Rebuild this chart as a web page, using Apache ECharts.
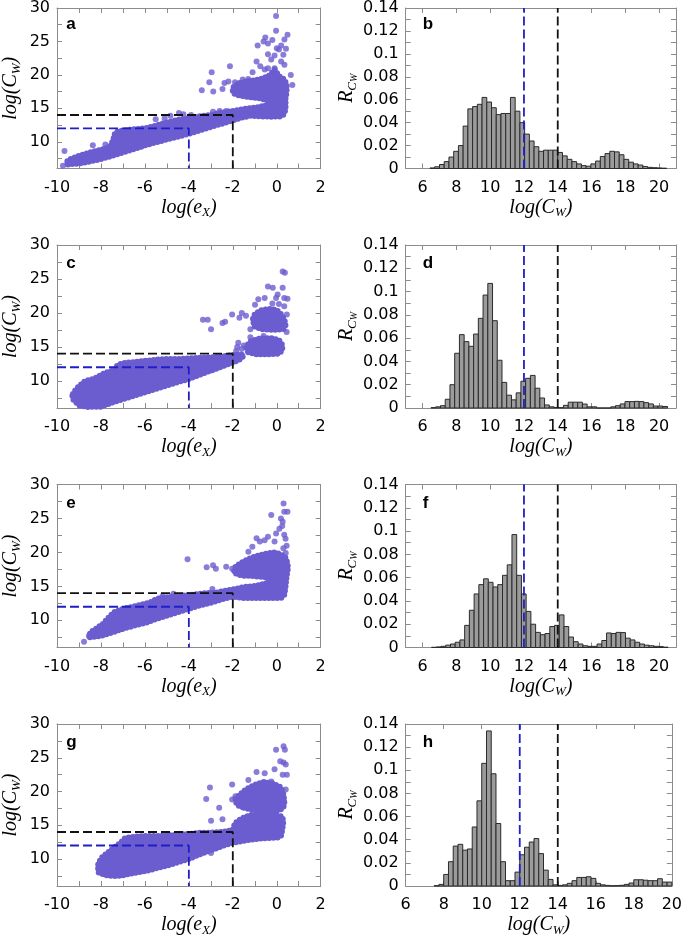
<!DOCTYPE html>
<html><head><meta charset="utf-8">
<script src="https://cdn.jsdelivr.net/npm/echarts@6/dist/echarts.min.js"></script>
<style>html,body{margin:0;padding:0;background:#fff}#c{width:685px;height:938px}</style>
</head><body><div id="c"></div>
<script>
// ---------- tick values ----------
const scatterXTicks = [-10,-9,-8,-7,-6,-5,-4,-3,-2,-1,0,1,2];
const scatterXLabels = [-10,-8,-6,-4,-2,0,2];
const scatterYTicks = [7.5,10,12.5,15,17.5,20,22.5,25,27.5,30];
const scatterYLabels = [10,15,20,25,30];
const histXLabels = [6,8,10,12,14,16,18,20];
const histYTicks = [0,0.01,0.02,0.03,0.04,0.05,0.06,0.07,0.08,0.09,0.1,0.11,0.12,0.13,0.14];
const histYLabels = [0,0.02,0.04,0.06,0.08,0.1,0.12,0.14];

// ---------- threshold guide lines ----------
const guideBlackScatter = [[-10,14],[-2,14],[-2,6]];
const guideBlueScatter = [[-10,12],[-4,12],[-4,6]];
const guideBlackHist = [[14,0],[14,0.14]];
const guideBlueHist = [[12,0],[12,0.14]];

// ---------- panel a: dense cloud outline + isolated points (log eX, log CW) ----------
const aCloud = [[-9.5,6.6],[-9.0,6.75],[-8.5,7.05],[-8.0,7.4],[-7.5,7.9],[-7.0,8.4],[-6.5,8.9],[-6.0,9.45],[-5.5,9.9],[-5.0,10.35],[-4.5,10.75],[-4.0,11.2],[-3.5,11.7],[-3.0,12.2],[-2.5,12.7],[-2.0,13.2],[-1.6,13.6],[-1.2,13.9],[-0.8,13.8],[-0.3,13.75],[0.2,13.8],[0.35,14.2],[0.4,15.0],[0.4,16.5],[0.45,17.5],[0.45,18.5],[0.35,19.3],[0.1,19.8],[-0.1,20.8],[-0.3,20.0],[-0.6,19.5],[-1.0,19.2],[-1.4,19.0],[-1.8,18.6],[-2.0,18.1],[-2.0,17.3],[-1.7,16.9],[-1.3,16.7],[-0.8,16.5],[-0.4,16.2],[-0.2,15.7],[-0.8,15.2],[-1.3,15.0],[-1.8,14.7],[-2.2,14.5],[-2.6,14.3],[-3.0,14.0],[-3.5,13.8],[-4.0,13.5],[-4.5,13.3],[-5.0,12.9],[-5.5,12.4],[-6.0,12.0],[-6.5,11.85],[-7.0,11.7],[-7.35,11.4],[-7.45,10.2],[-7.6,9.2],[-8.0,8.8],[-8.5,8.4],[-9.0,7.9],[-9.4,7.4],[-9.6,6.9]];
const aPoints = [[-9.73,6.4],[-9.66,8.6],[-8.37,9.46],[-7.8,9.6],[-5.51,13.38],[-5.1,13.5],[-4.84,13.87],[-4.45,14.3],[-4.25,14.1],[-3.9,14.0],[-2.3,14.6],[-2.6,14.6],[-2.9,14.5],[-3.41,17.7],[-3.07,18.9],[-2.96,20.4],[-2.89,17.5],[-2.47,17.9],[-2.38,18.8],[-2.13,21.3],[-2.2,19.0],[-1.9,18.9],[-1.7,18.8],[-1.55,19.3],[-1.3,19.4],[-0.03,28.8],[-0.03,26.6],[0.49,26.0],[-0.52,25.6],[-0.87,24.4],[-0.4,24.7],[-0.2,25.2],[0.2,24.4],[0.35,25.3],[0.42,23.9],[-0.1,22.9],[-0.4,23.1],[-0.92,22.0],[-0.75,21.3],[-0.25,22.3],[0.2,22.0],[-0.4,21.0],[-0.1,21.0],[0.64,20.0],[0.71,18.5],[0.35,21.5],[-0.55,20.8],[-1.1,20.4],[0.1,23.8],[0.3,23.0],[-0.6,25.0],[0.0,24.0]];

// ---------- panel c ----------
const cCloud = [[-9.3,7.8],[-9.25,7.2],[-9.0,6.4],[-8.6,6.15],[-8.0,6.2],[-7.5,6.8],[-7.0,7.3],[-6.5,7.8],[-6.0,8.3],[-5.5,8.8],[-5.0,9.3],[-4.5,9.8],[-4.0,10.3],[-3.5,10.9],[-3.0,11.5],[-2.5,12.1],[-2.0,12.7],[-1.6,13.3],[-1.5,13.8],[-1.8,13.9],[-2.2,13.7],[-2.8,13.5],[-3.4,13.4],[-4.0,13.3],[-4.6,13.2],[-5.2,13.2],[-5.8,13.0],[-6.4,12.8],[-7.0,12.6],[-7.25,12.3],[-7.35,11.6],[-7.8,11.2],[-8.3,10.3],[-8.7,10.0],[-9.0,9.2],[-9.25,8.3]];
const cCloudLow = [[-1.3,14.2],[-0.9,13.9],[-0.4,13.9],[0.1,14.0],[0.25,14.5],[0.25,15.3],[0.1,16.0],[-0.3,16.3],[-0.8,16.2],[-1.2,15.8],[-1.4,15.0]];
const cCloudHigh = [[-1.0,18.0],[-0.7,17.6],[-0.2,17.5],[0.3,17.6],[0.4,18.2],[0.35,19.0],[0.2,19.8],[0.0,20.4],[-0.3,20.6],[-0.7,20.4],[-1.0,19.8],[-1.1,19.0]];
const cPoints = [[-3.36,19.0],[-3.14,19.0],[-2.99,17.6],[-2.47,18.5],[-2.35,18.7],[-2.03,19.75],[-1.59,20.0],[-1.4,19.6],[-1.7,19.3],[0.27,26.1],[0.37,25.9],[-0.4,23.9],[-0.18,23.7],[0.27,23.7],[0.04,22.7],[-0.03,22.2],[0.34,22.2],[0.49,22.1],[-0.55,22.2],[-0.84,22.0],[-0.99,21.2],[0.34,21.0],[0.46,19.75],[-0.2,21.4],[0.1,21.3],[-1.9,13.8],[-1.85,14.4],[-1.8,15.0],[-1.75,15.6],[-1.5,15.2],[-1.6,14.7],[-1.2,16.4],[-0.6,16.6],[-1.2,17.6],[0.45,17.2]];

// ---------- panel e ----------
const eCloud = [[-8.5,7.5],[-8.0,7.7],[-7.5,8.2],[-7.0,8.75],[-6.5,9.2],[-6.0,9.6],[-5.5,10.2],[-5.0,10.7],[-4.5,11.2],[-4.0,11.7],[-3.5,12.2],[-3.0,12.6],[-2.5,13.1],[-2.0,13.5],[-1.8,13.4],[-1.5,13.3],[-1.0,13.3],[-0.5,13.3],[0.2,13.3],[0.35,13.8],[0.4,15.0],[0.45,16.5],[0.5,17.5],[0.5,18.3],[0.4,19.2],[0.2,19.7],[-0.1,20.0],[-0.5,19.8],[-1.0,19.4],[-1.3,19.0],[-1.7,18.3],[-1.9,17.8],[-1.95,17.0],[-1.6,16.6],[-1.0,16.5],[-0.4,16.3],[-0.15,15.7],[-0.9,15.1],[-1.5,14.9],[-1.9,14.6],[-2.3,14.4],[-2.7,14.1],[-3.2,14.0],[-3.8,13.8],[-4.4,13.6],[-5.0,13.4],[-5.4,13.2],[-5.8,12.6],[-6.4,12.1],[-7.0,11.7],[-7.4,11.2],[-7.6,10.6],[-7.9,9.5],[-8.2,8.8],[-8.5,8.2]];
const ePoints = [[-8.77,6.84],[-8.55,7.7],[-7.59,10.4],[-4.06,19.0],[-3.19,17.8],[-2.9,18.1],[-2.77,17.6],[-2.3,17.9],[-2.03,17.6],[-2.93,14.6],[0.31,27.2],[-0.25,25.5],[0.34,26.0],[0.49,26.0],[0.19,25.0],[0.27,24.5],[0.12,23.5],[-0.03,22.8],[0.34,22.6],[-0.4,22.3],[-0.92,22.1],[-0.55,21.8],[-0.77,21.6],[-0.1,21.6],[-1.11,20.85],[-1.29,20.1],[0.41,19.9],[0.45,21.0],[0.3,20.6],[0.25,23.9],[0.4,22.0],[-5.2,13.6],[-4.7,13.9]];

// ---------- panel g ----------
const gCloud = [[-8.1,8.0],[-7.8,7.6],[-7.4,7.45],[-7.0,7.6],[-6.5,7.9],[-6.0,8.2],[-5.5,8.6],[-5.0,9.0],[-4.5,9.5],[-4.0,10.0],[-3.5,10.7],[-3.0,11.3],[-2.5,11.9],[-2.0,12.4],[-1.5,12.7],[-1.0,12.95],[-0.5,13.1],[0.1,13.2],[0.2,13.5],[0.25,14.3],[0.3,15.5],[0.25,16.3],[-0.2,16.6],[-0.7,16.6],[-1.2,16.5],[-1.6,16.0],[-1.9,15.3],[-2.0,14.3],[-2.5,14.0],[-3.0,13.9],[-3.5,13.9],[-4.0,13.7],[-4.5,13.6],[-5.0,13.5],[-5.5,13.4],[-6.0,13.4],[-6.5,13.3],[-6.9,13.1],[-7.1,12.4],[-7.4,11.7],[-7.7,10.9],[-8.0,10.1],[-8.15,9.0]];
const gCloudHigh = [[-1.5,17.6],[-1.0,17.2],[-0.5,17.1],[0.1,17.2],[0.3,17.6],[0.35,18.5],[0.3,19.6],[0.2,20.6],[-0.2,21.2],[-0.6,21.4],[-1.0,21.0],[-1.4,20.3],[-1.7,19.5],[-1.9,18.8],[-1.8,18.0]];
const gPoints = [[-2.99,10.9],[-3.21,18.9],[-3.04,20.6],[-2.99,15.65],[-2.62,17.6],[-2.47,15.9],[-2.03,21.05],[-1.88,19.3],[-1.59,19.3],[-2.03,18.8],[-0.03,26.2],[0.31,26.7],[0.37,26.2],[0.16,24.5],[0.31,24.3],[0.41,24.0],[-0.1,23.3],[0.27,22.5],[0.46,22.5],[-0.25,21.5],[-0.55,22.7],[-0.92,22.9],[-1.29,21.7],[0.41,20.3],[0.27,18.8]];

// ---------- histograms (R_CW per bin of log CW) ----------
const bBinStart = 6.44, bBinWidth = 0.28;
const bHist = [0.0005,0.0015,0.0035,0.006,0.010,0.015,0.020,0.037,0.052,0.054,0.056,0.062,0.058,0.053,0.047,0.048,0.048,0.062,0.050,0.040,0.030,0.024,0.019,0.015,0.016,0.016,0.016,0.014,0.011,0.008,0.006,0.004,0.0025,0.002,0.004,0.0065,0.0105,0.013,0.015,0.0145,0.012,0.008,0.0055,0.004,0.003,0.0017,0.001,0.0007,0.0005,0.0003];
const dBinStart = 6.50, dBinWidth = 0.28;
const dHist = [0.0003,0.001,0.002,0.0075,0.020,0.047,0.063,0.057,0.053,0.0635,0.077,0.097,0.107,0.075,0.041,0.022,0.011,0.007,0.013,0.023,0.0255,0.028,0.017,0.0086,0.0026,0.001,0.0005,0.0003,0.0023,0.005,0.005,0.005,0.0034,0.001,0.001,0,0,0,0.001,0.002,0.0035,0.0055,0.0055,0.0057,0.0055,0.0046,0.0035,0.0017,0.0017,0.0013];
const fBinStart = 6.53, fBinWidth = 0.28;
const fHist = [0.0002,0.0005,0.001,0.002,0.003,0.0045,0.0065,0.019,0.032,0.046,0.054,0.059,0.056,0.052,0.054,0.062,0.071,0.097,0.062,0.046,0.031,0.020,0.013,0.011,0.012,0.018,0.019,0.028,0.018,0.009,0.005,0.003,0.0015,0.001,0.001,0.003,0.006,0.0125,0.012,0.013,0.0128,0.008,0.0065,0.0045,0.003,0.002,0.0015,0.001,0.0008,0.0003];
const hBinStart = 7.5, hBinWidth = 0.25;
const hHist = [0.0003,0.0014,0.010,0.021,0.0345,0.036,0.031,0.032,0.051,0.0736,0.106,0.134,0.097,0.054,0.021,0.0046,0.0046,0.012,0.027,0.0335,0.038,0.041,0.028,0.0137,0.0057,0.001,0.0005,0.001,0.0023,0.0046,0.0074,0.0074,0.008,0.0066,0.0023,0.001,0.0005,0.0002,0.0003,0.0006,0.0014,0.0026,0.0054,0.0054,0.005,0.0046,0.0046,0.0063,0.0034,0.0034];

// ---------- layout / style ----------
const PURPLE = '#6b5dd0';
const GREY = '#8c8c8c';
const BLUE = '#1f1fc8';
const BLACK = '#111111';
const rowTops = [5.5, 245, 484.5, 724];
const rowH = 163;
const tickFont = {fontFamily:'DejaVu Sans', fontSize:16, color:'#000'};
const serif = 'Liberation Serif';
const richName = {
  a:{fontFamily:serif, fontStyle:'italic', fontSize:20, lineHeight:24, color:'#000'},
  b:{fontFamily:serif, fontStyle:'italic', fontSize:13, lineHeight:12, verticalAlign:'bottom', color:'#000'},
  r:{fontFamily:serif, fontStyle:'italic', fontSize:20, lineHeight:24, color:'#000'},
  s:{fontFamily:serif, fontStyle:'italic', fontSize:13, lineHeight:14, verticalAlign:'bottom', color:'#000'},
  ss:{fontFamily:serif, fontStyle:'italic', fontSize:10, lineHeight:8, verticalAlign:'bottom', color:'#000'}
};

const grids=[], xAxes=[], yAxes=[], series=[], graphics=[];

function makePanel(left, top, width, height, cfg){
  const g = grids.length;
  grids.push({left:left, top:top, width:width, height:height});
  const xi = xAxes.length, yi = yAxes.length;
  const baseX = {type:'value', gridIndex:g, min:cfg.xmin, max:cfg.xmax, splitLine:{show:false},
    axisLine:{show:true, onZero:false, lineStyle:{color:GREY, width:1}}};
  const baseY = {type:'value', gridIndex:g, min:cfg.ymin, max:cfg.ymax, splitLine:{show:false},
    axisLine:{show:true, onZero:false, lineStyle:{color:GREY, width:1}}};
  xAxes.push(Object.assign({}, baseX, {position:'bottom',
    axisTick:{show:true, inside:true, length:5, customValues:cfg.xTicks, lineStyle:{color:GREY}},
    axisLabel:Object.assign({show:true, margin:11, customValues:cfg.xLabels, formatter:v=>String(v)}, tickFont),
    name:cfg.xName, nameLocation:'middle', nameGap:27, nameTextStyle:{rich:richName}}));
  xAxes.push(Object.assign({}, baseX, {position:'top',
    axisTick:{show:true, inside:true, length:5, customValues:cfg.xTicks, lineStyle:{color:GREY}},
    axisLabel:{show:false}}));
  yAxes.push(Object.assign({}, baseY, {position:'left',
    axisTick:{show:true, inside:true, length:5, customValues:cfg.yTicks, lineStyle:{color:GREY}},
    axisLabel:Object.assign({show:true, margin:7, customValues:cfg.yLabels, formatter:v=>String(v)}, tickFont),
    name:cfg.yName, nameLocation:'middle', nameGap:cfg.yNameGap, nameTextStyle:{rich:richName}}));
  yAxes.push(Object.assign({}, baseY, {position:'right',
    axisTick:{show:true, inside:true, length:5, customValues:cfg.yTicks, lineStyle:{color:GREY}},
    axisLabel:{show:false}}));
  graphics.push({type:'text', x:left+cfg.letterDx, y:top+18.6, style:{text:cfg.letter, font:'bold 17px "Liberation Sans"', fill:'#000', verticalAlign:'middle'}});
  return {xi:xi, yi:yi};
}

function cloudSeries(ax, pts){
  return {type:'custom', xAxisIndex:ax.xi, yAxisIndex:ax.yi, data:pts, encode:{x:0,y:1}, silent:true, z:2,
    renderItem:function(params, api){
      if(params.dataIndex!==0) return null;
      const coords = pts.map(p=>api.coord(p));
      return {type:'group', children:[
        {type:'polygon', shape:{points:coords}, style:{fill:PURPLE, stroke:PURPLE, lineWidth:2, lineJoin:'round'}},
        {type:'polygon', shape:{points:coords}, style:{fill:'none', stroke:PURPLE, lineWidth:6, lineCap:'round', lineDash:[0,4.2]}}
      ]};
    }};
}
function pointSeries(ax, pts){
  return {type:'scatter', xAxisIndex:ax.xi, yAxisIndex:ax.yi, data:pts, symbolSize:6, silent:true, z:3,
    itemStyle:{color:PURPLE}};
}
function guideSeries(ax, pts, color){
  return {type:'line', xAxisIndex:ax.xi, yAxisIndex:ax.yi, data:pts, symbol:'none', silent:true, z:6,
    lineStyle:{color:color, width:1.8, type:[9,4]}};
}
function histSeries(ax, start, width, vals){
  const data = vals.map((h,i)=>[start+i*width, start+(i+1)*width, h]);
  return {type:'custom', xAxisIndex:ax.xi, yAxisIndex:ax.yi, data:data, encode:{x:[0,1], y:2}, silent:true, z:2,
    renderItem:function(params, api){
      const p0 = api.coord([api.value(0), api.value(2)]);
      const p1 = api.coord([api.value(1), 0]);
      return {type:'rect', shape:{x:p0[0], y:p0[1], width:p1[0]-p0[0], height:p1[1]-p0[1]},
        style:{fill:'#9b9b9b', stroke:'#2b2b2b', lineWidth:1}};
    }};
}

const scatterCfg = (letter)=>({xmin:-10, xmax:2, ymin:6, ymax:30, xTicks:scatterXTicks, xLabels:scatterXLabels,
  yTicks:scatterYTicks, yLabels:scatterYLabels, xName:'{a|log(e}{b|X}{a|)}', yName:'{a|log(C}{b|W}{a|)}', yNameGap:34,
  letter:letter, letterDx:15.5});
const histCfg = (letter, xmin, xmax)=>({xmin:xmin, xmax:xmax, ymin:0, ymax:0.14, xTicks:histXLabels, xLabels:histXLabels,
  yTicks:histYTicks, yLabels:histYLabels, xName:'{a|log(C}{b|W}{a|)}', yName:'{r|R}{s|C}{ss|W}', yNameGap:46,
  letter:letter, letterDx:17});

const scatterPanels = [
  {letter:'a', clouds:[aCloud], points:aPoints},
  {letter:'c', clouds:[cCloud, cCloudLow, cCloudHigh], points:cPoints},
  {letter:'e', clouds:[eCloud], points:ePoints},
  {letter:'g', clouds:[gCloud, gCloudHigh], points:gPoints}
];
const histPanels = [
  {letter:'b', start:bBinStart, width:bBinWidth, vals:bHist, xmin:5, xmax:21, w:270.3},
  {letter:'d', start:dBinStart, width:dBinWidth, vals:dHist, xmin:5, xmax:21, w:270.3},
  {letter:'f', start:fBinStart, width:fBinWidth, vals:fHist, xmin:5, xmax:21, w:270.3},
  {letter:'h', start:hBinStart, width:hBinWidth, vals:hHist, xmin:6, xmax:20, w:269.3}
];

scatterPanels.forEach((p, r)=>{
  const ax = makePanel(50.7, rowTops[r], 270, rowH, scatterCfg(p.letter));
  p.clouds.forEach(c=>series.push(cloudSeries(ax, c)));
  series.push(pointSeries(ax, p.points));
  series.push(guideSeries(ax, guideBlackScatter, BLACK));
  series.push(guideSeries(ax, guideBlueScatter, BLUE));
});
histPanels.forEach((p, r)=>{
  const ax = makePanel(405.7, rowTops[r], p.w, rowH, histCfg(p.letter, p.xmin, p.xmax));
  series.push(histSeries(ax, p.start, p.width, p.vals));
  series.push(guideSeries(ax, guideBlueHist, BLUE));
  series.push(guideSeries(ax, guideBlackHist, BLACK));
});

const chart = echarts.init(document.getElementById('c'), null, {renderer:'canvas', width:685, height:938});
chart.setOption({animation:false, backgroundColor:'#fff', grid:grids, xAxis:xAxes, yAxis:yAxes, series:series, graphic:graphics});
</script></body></html>
